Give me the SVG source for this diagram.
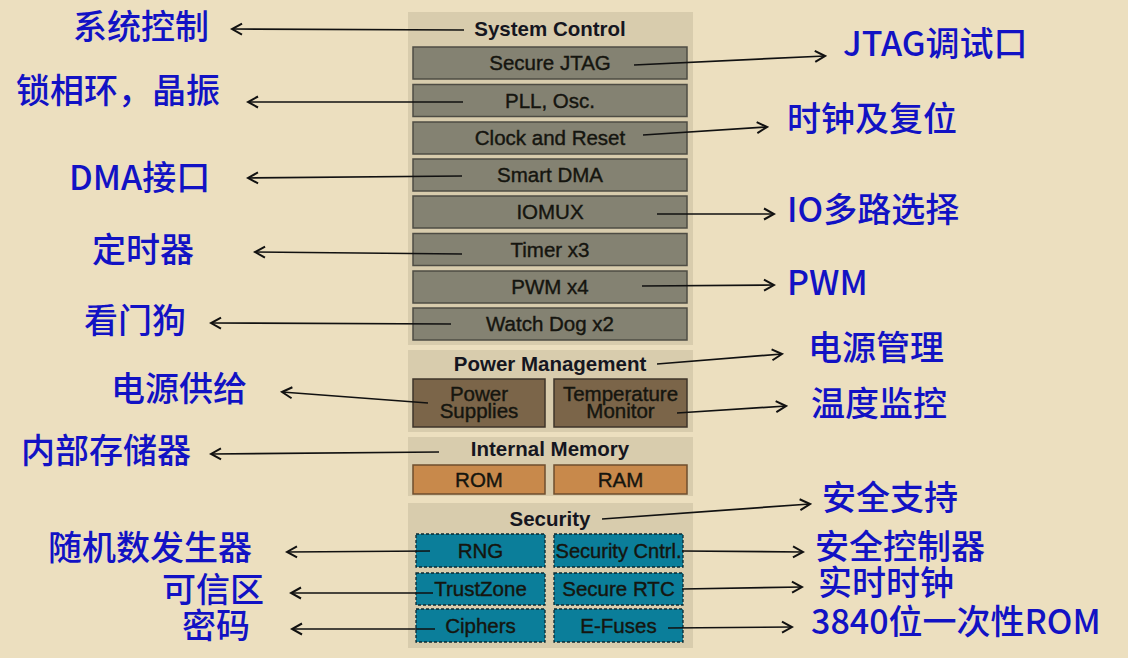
<svg xmlns="http://www.w3.org/2000/svg" width="1128" height="658" viewBox="0 0 1128 658">
<defs>
<marker id="arr" markerUnits="userSpaceOnUse" markerWidth="14" markerHeight="14" viewBox="0 0 14 14" refX="12" refY="7" orient="auto">
<path d="M2,1.5 L12,7 L2,12.5" fill="none" stroke="#111" stroke-width="2"/>
</marker>
</defs>
<style>
.bg{fill:#ECDFBF}
.panel{fill:#D8CCAD}
.gray{fill:#848272;stroke:#4e4c44;stroke-width:1.5}
.brown{fill:#7B6549;stroke:#3e342a;stroke-width:1.5}
.orange{fill:#C8894B;stroke:#6e4e2e;stroke-width:1.5}
.teal{fill:#0B7E9A;stroke:#0a2a33;stroke-width:1.3;stroke-dasharray:3 2}
.hdr{font-family:"Liberation Sans",Arial,sans-serif;font-weight:bold;font-size:20.5px;text-anchor:middle;fill:#15161f}
.box{font-family:"Liberation Sans",Arial,sans-serif;font-size:20.5px;text-anchor:middle;fill:#15150f;stroke:#15150f;stroke-width:0.4}
.lbl{font-family:"Noto Sans CJK SC","Noto Sans",sans-serif;font-weight:500;font-size:34px;fill:#1212C4}
.con line{stroke:#111;stroke-width:1.7;marker-end:url(#arr)}
</style>
<rect class="bg" x="0" y="0" width="1128" height="658"/>

<g id="system-control">
<rect class="panel" x="408" y="12" width="285" height="333"/>
<text class="hdr" x="550" y="36">System Control</text>
</g>
<g id="secure-jtag"><rect class="gray" x="413" y="47" width="274" height="32"/><text class="box" x="550" y="70">Secure JTAG</text></g>
<g id="pll-osc"><rect class="gray" x="413" y="84.5" width="274" height="32"/><text class="box" x="550" y="107.5">PLL, Osc.</text></g>
<g id="clock-reset"><rect class="gray" x="413" y="122" width="274" height="32"/><text class="box" x="550" y="145">Clock and Reset</text></g>
<g id="smart-dma"><rect class="gray" x="413" y="159" width="274" height="32"/><text class="box" x="550" y="182">Smart DMA</text></g>
<g id="iomux"><rect class="gray" x="413" y="196" width="274" height="32"/><text class="box" x="550" y="219">IOMUX</text></g>
<g id="timer"><rect class="gray" x="413" y="233.5" width="274" height="32"/><text class="box" x="550" y="256.5">Timer x3</text></g>
<g id="pwm"><rect class="gray" x="413" y="271" width="274" height="32"/><text class="box" x="550" y="294">PWM x4</text></g>
<g id="watchdog"><rect class="gray" x="413" y="308" width="274" height="32"/><text class="box" x="550" y="331">Watch Dog x2</text></g>

<g id="power-management">
<rect class="panel" x="408" y="350" width="285" height="82"/>
<text class="hdr" x="550" y="370.5">Power Management</text>
</g>
<g id="power-supplies"><rect class="brown" x="413" y="379" width="132" height="48"/><text class="box" x="479" y="401">Power</text><text class="box" x="479" y="418">Supplies</text></g>
<g id="temperature-monitor"><rect class="brown" x="554" y="379" width="133" height="48"/><text class="box" x="620.5" y="401">Temperature</text><text class="box" x="620.5" y="418">Monitor</text></g>

<g id="internal-memory">
<rect class="panel" x="408" y="437" width="285" height="59"/>
<text class="hdr" x="550" y="456">Internal Memory</text>
</g>
<g id="rom"><rect class="orange" x="413" y="465" width="132" height="29"/><text class="box" x="479" y="486.5">ROM</text></g>
<g id="ram"><rect class="orange" x="554" y="465" width="133" height="29"/><text class="box" x="620.5" y="486.5">RAM</text></g>

<g id="security">
<rect class="panel" x="408" y="503" width="285" height="145"/>
<text class="hdr" x="550" y="526">Security</text>
</g>
<g id="rng"><rect class="teal" x="416" y="534" width="129" height="33"/><text class="box" x="480.5" y="557.5">RNG</text></g>
<g id="security-cntrl"><rect class="teal" x="554" y="534" width="129" height="33"/><text class="box" x="618.5" y="557.5" textLength="126" lengthAdjust="spacingAndGlyphs">Security Cntrl.</text></g>
<g id="trustzone"><rect class="teal" x="416" y="573" width="129" height="32"/><text class="box" x="480.5" y="596">TrustZone</text></g>
<g id="secure-rtc"><rect class="teal" x="554" y="573" width="129" height="32"/><text class="box" x="618.5" y="596">Secure RTC</text></g>
<g id="ciphers"><rect class="teal" x="416" y="609" width="129" height="33"/><text class="box" x="480.5" y="632.5">Ciphers</text></g>
<g id="e-fuses"><rect class="teal" x="554" y="609" width="129" height="33"/><text class="box" x="618.5" y="632.5">E-Fuses</text></g>

<g id="labels-left">
<text class="lbl" x="73" y="39">系统控制</text>
<text class="lbl" x="16" y="103">锁相环，晶振</text>
<text class="lbl" x="69" y="190">DMA接口</text>
<text class="lbl" x="92" y="262">定时器</text>
<text class="lbl" x="84" y="333">看门狗</text>
<text class="lbl" x="111" y="401">电源供给</text>
<text class="lbl" x="21" y="463">内部存储器</text>
<text class="lbl" x="48" y="560">随机数发生器</text>
<text class="lbl" x="162" y="602">可信区</text>
<text class="lbl" x="182" y="638">密码</text>
</g>
<g id="labels-right">
<text class="lbl" x="843" y="56">JTAG调试口</text>
<text class="lbl" x="787" y="131">时钟及复位</text>
<text class="lbl" x="787" y="222">IO多路选择</text>
<text class="lbl" x="787" y="295">PWM</text>
<text class="lbl" x="808" y="360">电源管理</text>
<text class="lbl" x="811" y="416">温度监控</text>
<text class="lbl" x="822" y="510">安全支持</text>
<text class="lbl" x="815" y="559">安全控制器</text>
<text class="lbl" x="818" y="595">实时时钟</text>
<text class="lbl" x="811" y="634">3840位一次性ROM</text>
</g>

<g id="connectors" class="con">
<line x1="464" y1="30" x2="232" y2="29"/>
<line x1="463" y1="102" x2="248" y2="102"/>
<line x1="462" y1="176" x2="248" y2="178"/>
<line x1="462" y1="254" x2="255" y2="252"/>
<line x1="451" y1="324" x2="211" y2="323"/>
<line x1="428" y1="403" x2="282" y2="392"/>
<line x1="439" y1="452" x2="211" y2="454"/>
<line x1="430" y1="551" x2="287" y2="552"/>
<line x1="433" y1="593" x2="291" y2="593"/>
<line x1="435" y1="629" x2="292" y2="629"/>
<line x1="634" y1="65" x2="825" y2="56"/>
<line x1="643" y1="135" x2="767" y2="127"/>
<line x1="657" y1="214" x2="774" y2="214"/>
<line x1="642" y1="286" x2="774" y2="285"/>
<line x1="657" y1="364" x2="782" y2="354"/>
<line x1="677" y1="413" x2="786" y2="406"/>
<line x1="602" y1="519" x2="810" y2="504"/>
<line x1="682" y1="551" x2="803" y2="552"/>
<line x1="682" y1="589" x2="802" y2="587"/>
<line x1="668" y1="628" x2="792" y2="627"/>
</g>
</svg>
